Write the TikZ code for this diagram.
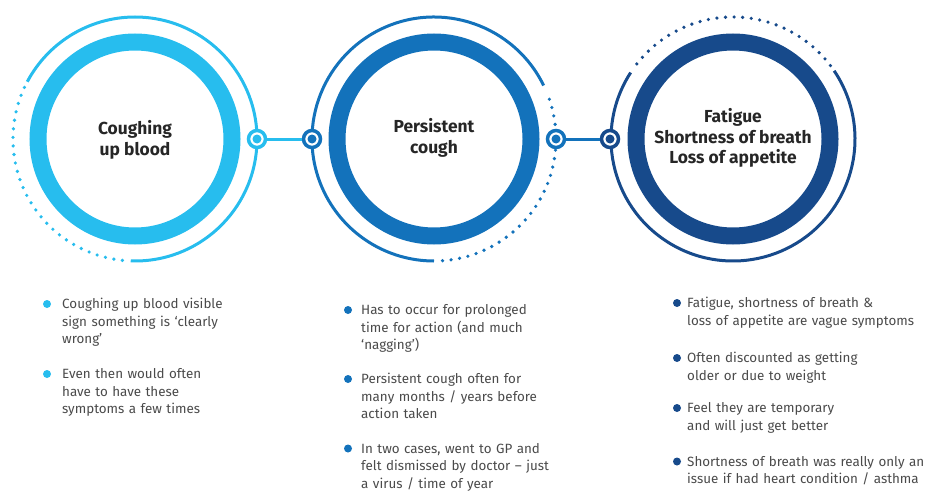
\documentclass[tikz,border=0pt]{standalone}
\usepackage{fontspec}
\setmainfont{Fira Sans}
\definecolor{cA}{HTML}{27BDEE}
\definecolor{cB}{HTML}{1372BB}
\definecolor{cC}{HTML}{174A8B}
\definecolor{ttl}{HTML}{262626}
\definecolor{txt}{HTML}{4A4A4A}
\begin{document}
\begin{tikzpicture}[x=1pt,y=1pt,
  bigring/.style={line width=17pt},
  thinarc/.style={line width=3pt},
  dotarc/.style={line width=3.6pt, line cap=round, dash pattern=on 0pt off 8.6pt},
  knob/.style={circle, draw=#1, line width=3.5pt, fill=white, minimum size=17pt, inner sep=0pt},
  link/.style={line width=3pt},
  title/.style={font=\fontsize{17.4}{20.5}\selectfont\bfseries, text=ttl, align=center, inner sep=0pt},
  item/.style={font=\fontsize{13.4}{17.5}\selectfont, text=txt, align=left, text width=260pt, anchor=base west, inner sep=0pt},
  bullet/.style={circle, fill=#1, minimum size=8pt, inner sep=0pt}
]
\useasboundingbox (0,0) rectangle (925,491);
\coordinate (C1) at (135,352);
\coordinate (C2) at (434,352);
\coordinate (C3) at (733,352);
% circle 1
\draw[cA, bigring] (C1) circle (97);
\draw[cA, thinarc] ([shift={(-92:122)}]C1) arc[start angle=-92, end angle=152, radius=122];
\draw[cA, dotarc] ([shift={(155:122)}]C1) arc[start angle=155, end angle=266, radius=122];
% circle 2
\draw[cB, bigring] (C2) circle (97);
\draw[cB, thinarc] ([shift={(26:122)}]C2) arc[start angle=26, end angle=270, radius=122];
\draw[cB, dotarc] ([shift={(-86:122)}]C2) arc[start angle=-86, end angle=23, radius=122];
% circle 3
\draw[cC, bigring] (C3) circle (97);
\draw[cC, thinarc] ([shift={(147:122)}]C3) arc[start angle=147, end angle=394, radius=122];
\draw[cC, dotarc] ([shift={(37:122)}]C3) arc[start angle=37, end angle=144, radius=122];
% titles
\node[title] (t1) at (135,351) {Coughing\\up blood};
\node[title] (t2) at (434,353) {Persistent\\cough};
\node[title] (t3) at (733,353) {Fatigue\\Shortness of breath\\Loss of appetite};
% knobs and links
\node[knob=cA] (k1) at (257,352) {};
\node[knob=cB] (k2) at (312,352) {};
\node[knob=cB] (k3) at (556,352) {};
\node[knob=cC] (k4) at (610,352) {};
\draw[cA, link] (k1) -- (k2);
\draw[cB, link] (k3) -- (k4);
\fill[cA] (k1.center) circle (4.5);
\fill[cB] (k2.center) circle (4.5);
\fill[cB] (k3.center) circle (4.5);
\fill[cC] (k4.center) circle (4.5);
% column 1
\node[bullet=cA] (b11) at (47,187) {};
\node[item] (i11) at (62,182.5) {Coughing up blood visible\\sign something is ‘clearly\\wrong’};
\node[bullet=cA] (b12) at (47,117) {};
\node[item] (i12) at (62,112.5) {Even then would often\\have to have these\\symptoms a few times};
% column 2
\node[bullet=cB] (b21) at (348,181) {};
\node[item] (i21) at (361,176.5) {Has to occur for prolonged\\time for action (and much\\‘nagging’)};
\node[bullet=cB] (b22) at (348,112) {};
\node[item] (i22) at (361,107.5) {Persistent cough often for\\many months / years before\\action taken};
\node[bullet=cB] (b23) at (348,42.5) {};
\node[item] (i23) at (361,38) {In two cases, went to GP and\\felt dismissed by doctor – just\\a virus / time of year};
% column 3
\node[bullet=cC] (b31) at (677,188) {};
\node[item] (i31) at (687,183.5) {Fatigue, shortness of breath \&\\loss of appetite are vague symptoms};
\node[bullet=cC] (b32) at (677,133) {};
\node[item] (i32) at (687,128.5) {Often discounted as getting\\older or due to weight};
\node[bullet=cC] (b33) at (677,83) {};
\node[item] (i33) at (687,78.5) {Feel they are temporary\\and will just get better};
\node[bullet=cC] (b34) at (677,29.5) {};
\node[item] (i34) at (687,25) {Shortness of breath was really only an\\issue if had heart condition / asthma};
\end{tikzpicture}
\end{document}
